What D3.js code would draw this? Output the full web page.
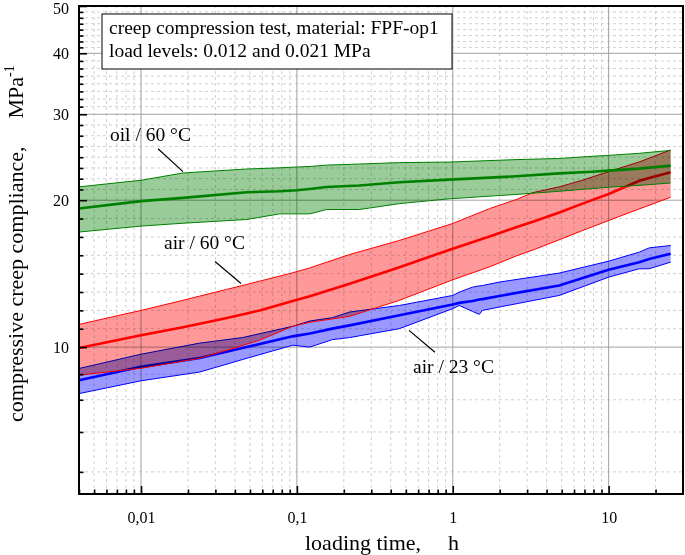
<!DOCTYPE html>
<html><head><meta charset="utf-8">
<script src="https://cdn.jsdelivr.net/npm/d3@7/dist/d3.min.js"></script>
<style>
body{margin:0;background:#fff}
text{font-family:"Liberation Serif","Times New Roman",serif;fill:#000}
</style>
</head><body>
<svg id="c" width="685" height="555"></svg>
<script>
// ---------- data ----------
const xDomain = [0.004, 30];
const yDomain = [5, 50];
const xTickValues = [0.01, 0.1, 1, 10];
const xTickLabels = ["0,01", "0,1", "1", "10"];
const yTickValues = [10, 20, 30, 40, 50];
const yTickLabels = ["10", "20", "30", "40", "50"];
const yMinorBelow10 = [8.8, 7.8, 6.7, 5.55];

// oil / 60 °C  (green)
const oilTime  = [0.004, 0.01, 0.0186, 0.0477, 0.0775, 0.1, 0.121, 0.155, 0.252, 0.455, 0.95, 2.55, 4.82, 7.84, 10, 15.7, 25];
const oilUpper = [21.3, 21.97, 22.74, 23.17, 23.3, 23.39, 23.45, 23.6, 23.72, 23.88, 23.94, 24.22, 24.35, 24.6, 24.71, 24.95, 25.3];
const oilMean  = [19.23, 19.91, 20.22, 20.77, 20.86, 20.96, 21.09, 21.29, 21.43, 21.77, 22.04, 22.39, 22.7, 22.87, 22.99, 23.21, 23.54];
const oilLower = [17.21, 17.70, 17.94, 18.26, 18.75, 18.75, 18.75, 19.14, 19.14, 19.68, 20.13, 20.55, 20.86, 21.13, 21.26, 21.45, 21.69];

// air / 60 °C  (red)
const hotTime  = [0.004, 0.01, 0.0186, 0.0238, 0.0355, 0.0477, 0.0577, 0.094, 0.121, 0.218, 0.455, 1.0, 1.72, 2.55, 3.27, 4.88, 6.67, 10, 15.9, 25];
const hotUpper = [11.13, 11.89, 12.47, 12.72, 13.13, 13.44, 13.65, 14.20, 14.53, 15.48, 16.54, 17.92, 19.22, 20.06, 20.73, 21.32, 21.94, 22.88, 23.99, 25.35];
const hotMean  = [9.96, 10.57, 10.98, 11.16, 11.47, 11.72, 11.89, 12.43, 12.71, 13.48, 14.58, 15.91, 16.85, 17.60, 18.07, 18.89, 19.63, 20.60, 21.94, 22.81];
const hotLower = [8.76, 9.05, 9.36, 9.49, 9.85, 10.14, 10.33, 11.03, 11.24, 11.56, 12.47, 13.74, 14.60, 15.37, 15.81, 16.62, 17.29, 18.17, 19.22, 20.28];

// air / 23 °C  (blue)
const roomTime  = [0.004, 0.01, 0.0238, 0.0448, 0.094, 0.121, 0.169, 0.218, 0.455, 1.0, 1.10, 1.34, 1.48, 1.55, 1.99, 4.82, 10, 15.7, 18.2, 25];
const roomUpper = [9.04, 9.67, 10.19, 10.46, 11.03, 11.31, 11.49, 11.80, 12.17, 12.76, 12.96, 13.27, 13.35, 13.37, 13.59, 14.18, 15.00, 15.65, 15.97, 16.15];
const roomMean  = [8.55, 9.11, 9.50, 9.96, 10.52, 10.66, 10.91, 11.08, 11.62, 12.23, 12.32, 12.43, 12.52, 12.54, 12.73, 13.37, 14.40, 14.93, 15.16, 15.53];
const roomLower = [8.03, 8.53, 8.89, 9.43, 10.09, 10.00, 10.36, 10.46, 10.91, 11.99, 12.17, 11.83, 11.67, 11.89, 12.08, 12.76, 13.91, 14.47, 14.47, 14.93];

const legendLines = ["creep compression test, material: FPF-op1", "load levels: 0.012 and 0.021 MPa"];
const annotations = [
  {text: "oil / 60 °C", t: 0.00632, v: 26.48, line: [[0.01285, 25.5], [0.01859, 22.88]]},
  {text: "air / 60 °C", t: 0.01404, v: 15.92, line: [[0.02983, 14.98], [0.04379, 13.50]]},
  {text: "air / 23 °C", t: 0.5557, v: 8.84, line: [[0.524, 10.82], [0.769, 9.76]]}
];

// ---------- layout ----------
const W = 685, H = 555;
const X0 = 79, X1 = 683, Y0 = 494, Y1 = 6;
const svg = d3.select("#c");
svg.append("rect").attr("width", W).attr("height", H).attr("fill", "#fff");

const x = d3.scaleLog().domain(xDomain).range([X0, X1]);
const y = d3.scaleLog().domain(yDomain).range([Y0, Y1]);

// minor tick values
const xMinor = [];
for (let e = -3; e <= 1; e++) for (let k = 2; k <= 9; k++) {
  const v = +(k * Math.pow(10, e)).toPrecision(6);
  if (v > xDomain[0] * 0.999 && v < xDomain[1] * 0.999) xMinor.push(v);
}
const yMinor = [...yMinorBelow10];
for (let i = 0; i < yTickValues.length - 1; i++) {
  const a = yTickValues[i], b = yTickValues[i + 1];
  for (let k = 1; k < 8; k++) yMinor.push(a * Math.pow(b / a, k / 8));
}

// grid
const grid = svg.append("g");
grid.selectAll(".gxm").data(xMinor).join("line")
  .attr("x1", d => x(d)).attr("x2", d => x(d)).attr("y1", Y0).attr("y2", Y1)
  .attr("stroke", "#d0d0d0").attr("stroke-dasharray", "3,3");
grid.selectAll(".gym").data(yMinor).join("line")
  .attr("y1", d => y(d)).attr("y2", d => y(d)).attr("x1", X0).attr("x2", X1)
  .attr("stroke", "#d0d0d0").attr("stroke-dasharray", "3,3");
grid.selectAll(".gxM").data(xTickValues).join("line")
  .attr("x1", d => x(d)).attr("x2", d => x(d)).attr("y1", Y0).attr("y2", Y1)
  .attr("stroke", "#a0a0a0");
grid.selectAll(".gyM").data(yTickValues.slice(0, -1)).join("line")
  .attr("y1", d => y(d)).attr("y2", d => y(d)).attr("x1", X0).attr("x2", X1)
  .attr("stroke", "#a0a0a0");

// series
function drawGroup(time, lower, mean, upper, fill, color) {
  const rows = time.map((t, i) => ({t, lo: lower[i], m: mean[i], hi: upper[i]}));
  const g = svg.append("g");
  g.append("path").datum(rows)
    .attr("d", d3.area().x(d => x(d.t)).y0(d => y(d.lo)).y1(d => y(d.hi)))
    .attr("fill", fill).style("mix-blend-mode", "multiply");
  const ln = key => d3.line().x(d => x(d.t)).y(d => y(d[key]));
  g.append("path").datum(rows).attr("d", ln("lo")).attr("fill", "none").attr("stroke", color).attr("stroke-width", 1);
  g.append("path").datum(rows).attr("d", ln("hi")).attr("fill", "none").attr("stroke", color).attr("stroke-width", 1);
  g.append("path").datum(rows).attr("d", ln("m")).attr("fill", "none").attr("stroke", color).attr("stroke-width", 2.6);
}
drawGroup(roomTime, roomLower, roomMean, roomUpper, "rgb(153,153,255)", "rgb(0,0,255)");
drawGroup(hotTime, hotLower, hotMean, hotUpper, "rgb(255,153,153)", "rgb(255,0,0)");
drawGroup(oilTime, oilLower, oilMean, oilUpper, "rgb(153,204,153)", "rgb(0,128,0)");

// frame
svg.append("rect").attr("x", X0).attr("y", Y1).attr("width", X1 - X0).attr("height", Y0 - Y1)
  .attr("fill", "none").attr("stroke", "#000").attr("stroke-width", 2);

// axes
function styleAxis(g, fs) {
  g.select(".domain").remove();
  g.selectAll(".tick line").attr("stroke", "#000").attr("stroke-width", 1.6);
  g.selectAll("text").attr("font-family", "Liberation Serif").attr("font-size", fs).attr("fill", "#000");
}
const yAx = svg.append("g").attr("transform", `translate(${X0},0)`)
  .call(d3.axisLeft(y).tickValues(yTickValues).tickSize(-8).tickPadding(10)
    .tickFormat((d, i) => yTickLabels[i]));
styleAxis(yAx, 16);
// keep the top label inside the picture
yAx.selectAll(".tick text").filter(d => d === yDomain[1]).attr("dy", "0.45em");
const yAxm = svg.append("g").attr("transform", `translate(${X0},0)`)
  .call(d3.axisLeft(y).tickValues(yMinor).tickSize(-4.5).tickFormat(""));
styleAxis(yAxm, 16);
const xAx = svg.append("g").attr("transform", `translate(0,${Y0})`)
  .call(d3.axisBottom(x).tickValues(xTickValues).tickSize(-8).tickPadding(18)
    .tickFormat((d, i) => xTickLabels[i]));
styleAxis(xAx, 16);
const xAxm = svg.append("g").attr("transform", `translate(0,${Y0})`)
  .call(d3.axisBottom(x).tickValues(xMinor).tickSize(-4.5).tickFormat(""));
styleAxis(xAxm, 16);

// axis titles
const xt = svg.append("text").attr("x", 305).attr("y", 550).attr("font-size", 22);
xt.append("tspan").text("loading time,");
xt.append("tspan").attr("dx", 27).text("h");

const yt = svg.append("text").attr("transform", "translate(23,422) rotate(-90)").attr("font-size", 22);
yt.append("tspan").text("compressive creep compliance,");
yt.append("tspan").attr("dx", 28).text("MPa");
yt.append("tspan").attr("dy", -9).attr("font-size", 14).text("-1");

// legend box
svg.append("rect").attr("x", 102).attr("y", 14).attr("width", 350).attr("height", 55)
  .attr("fill", "#fff").attr("stroke", "#000").attr("stroke-width", 1);
svg.selectAll(".leg").data(legendLines).join("text")
  .attr("x", 109).attr("y", (d, i) => 34 + i * 23).attr("font-size", 19.5).text(d => d);

// annotations
annotations.forEach(a => {
  svg.append("text").attr("x", x(a.t)).attr("y", y(a.v)).attr("font-size", 19.5).text(a.text);
  svg.append("line")
    .attr("x1", x(a.line[0][0])).attr("y1", y(a.line[0][1]))
    .attr("x2", x(a.line[1][0])).attr("y2", y(a.line[1][1]))
    .attr("stroke", "#000").attr("stroke-width", 1.2);
});
</script>
</body></html>
